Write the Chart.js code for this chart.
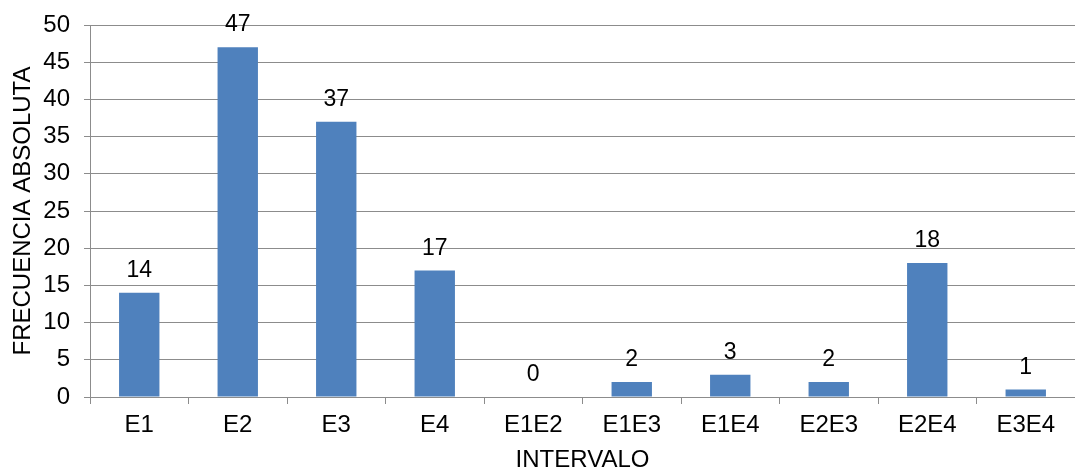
<!DOCTYPE html>
<html>
<head>
<meta charset="utf-8">
<script src="https://cdn.jsdelivr.net/npm/chart.js@4/dist/chart.umd.min.js"></script>
<style>
  html, body { margin: 0; padding: 0; background: #ffffff; }
  #wrap { width: 1075px; height: 472px; position: relative; }
</style>
</head>
<body>
<div id="wrap"><canvas id="c" width="1075" height="472"></canvas></div>
<script>
// Intervals and their absolute frequencies
const categories = ['E1', 'E2', 'E3', 'E4', 'E1E2', 'E1E3', 'E1E4', 'E2E3', 'E2E4', 'E3E4'];
const frequencies = [14, 47, 37, 17, 0, 2, 3, 2, 18, 1];
const yTicks = [0, 5, 10, 15, 20, 25, 30, 35, 40, 45, 50];

const FONT = 'Liberation Sans, Arial, sans-serif';
const GRID = '#8c8c8c';
const SIZE = 24;

// Writes each bar's value above it
const valueLabels = {
  id: 'valueLabels',
  afterDatasetsDraw(chart) {
    const ctx = chart.ctx;
    const meta = chart.getDatasetMeta(0);
    ctx.save();
    ctx.font = '23px ' + FONT;
    ctx.fillStyle = '#000000';
    ctx.textAlign = 'center';
    ctx.textBaseline = 'alphabetic';
    meta.data.forEach((bar, i) => {
      ctx.fillText(String(frequencies[i]), bar.x, bar.y - 16);
    });
    ctx.restore();
  }
};

new Chart(document.getElementById('c'), {
  type: 'bar',
  data: {
    labels: categories,
    datasets: [{
      data: frequencies,
      backgroundColor: '#4f81bd',
      borderWidth: 0,
      barPercentage: 0.41,
      categoryPercentage: 1.0
    }]
  },
  options: {
    responsive: false,
    animation: false,
    devicePixelRatio: 1,
    layout: { padding: { top: 25, right: 0, left: 0, bottom: 0 } },
    plugins: {
      legend: { display: false },
      tooltip: { enabled: false }
    },
    scales: {
      x: {
        offset: true,
        grid: {
          offset: true,
          drawOnChartArea: false,
          drawTicks: true,
          tickLength: 7,
          color: GRID
        },
        border: { color: GRID, width: 1 },
        ticks: {
          color: '#000000',
          font: { family: FONT, size: SIZE },
          padding: 7,
          maxRotation: 0,
          autoSkip: false
        },
        title: {
          display: true,
          text: 'INTERVALO',
          color: '#000000',
          font: { family: FONT, size: SIZE, lineHeight: 1 },
          padding: { top: 4, bottom: 0 }
        },
        afterFit(scale) {
          scale.height = 75;
          scale.paddingLeft = 0;
          scale.paddingRight = 0;
        }
      },
      y: {
        min: 0,
        max: 50,
        afterBuildTicks(scale) { scale.ticks = yTicks.map(v => ({ value: v })); },
        grid: {
          color: GRID,
          lineWidth: 1,
          drawTicks: true,
          tickLength: 6
        },
        border: { color: GRID, width: 1 },
        ticks: {
          color: '#000000',
          font: { family: FONT, size: SIZE },
          padding: 14
        },
        title: {
          display: true,
          text: 'FRECUENCIA ABSOLUTA',
          color: '#000000',
          font: { family: FONT, size: SIZE },
          padding: { top: 9, bottom: 0 }
        },
        afterFit(scale) {
          scale.width = 90;
          scale.paddingTop = 0;
          scale.paddingBottom = 0;
        }
      }
    }
  },
  plugins: [valueLabels]
});
</script>
</body>
</html>
